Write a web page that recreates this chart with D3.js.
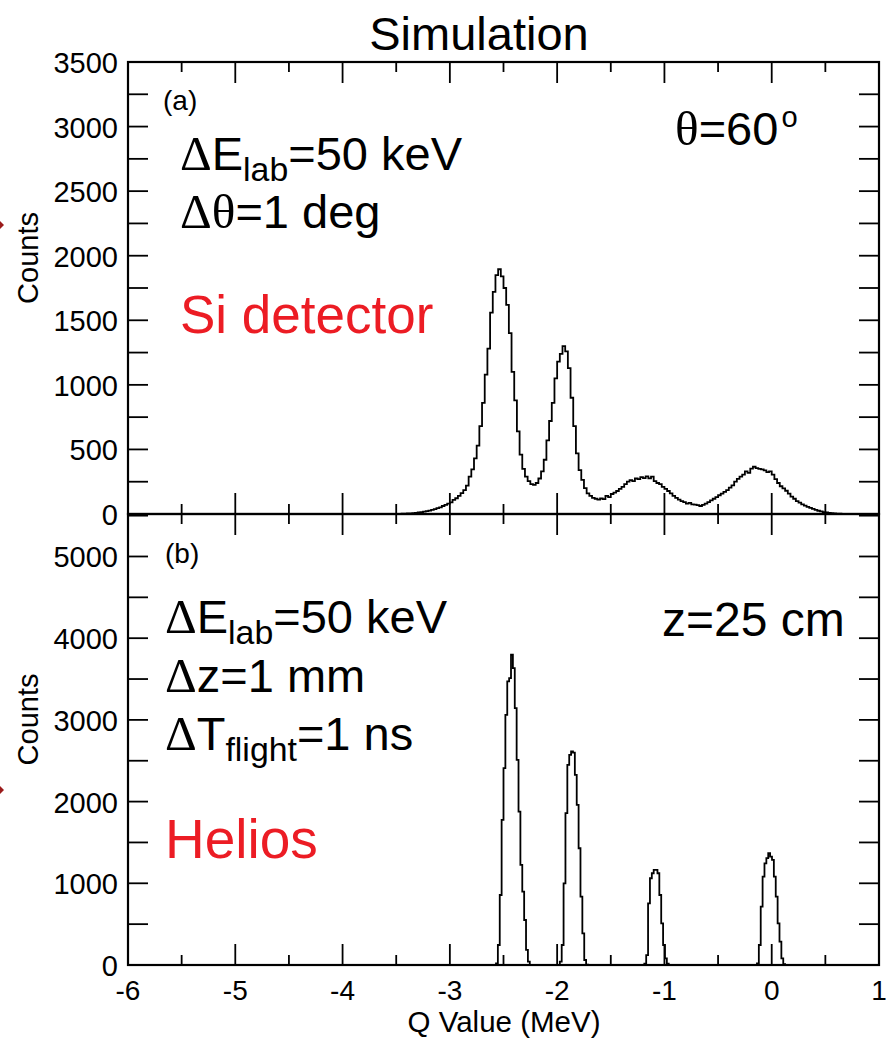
<!DOCTYPE html>
<html>
<head>
<meta charset="utf-8">
<script src="https://cdn.jsdelivr.net/npm/d3@7"></script>
<style>
  html, body { margin: 0; padding: 0; background: #fff; }
  svg { display: block; }
</style>
</head>
<body>
<svg id="chart" width="886" height="1039"></svg>
<script>
// ---- Q-value axis ----
const qDomain = [-6, 1];
const qMajorTicks = [-6, -5, -4, -3, -2, -1, 0, 1];
const qTickLabels = ["-6", "-5", "-4", "-3", "-2", "-1", "0", "1"];

// ---- (a) Si detector spectrum: 25 keV bins starting at -3.45 MeV ----
const siBinWidth = 0.025;
const siFirstEdge = -3.45;
const siCounts = [
  2, 3, 4, 5, 7, 9, 12, 15, 19, 22,
  26, 32, 38, 45, 52, 62, 70, 80, 90, 110,
  122, 140, 162, 185, 220, 289, 345, 430, 530, 680,
  860, 1080, 1280, 1560, 1720, 1850, 1895, 1840, 1750, 1620,
  1400, 1100, 880, 640, 460, 350, 290, 255, 232, 225,
  240, 275, 330, 420, 570, 720, 860, 1050, 1180, 1240,
  1300, 1260, 1130, 900, 680, 470, 340, 265, 200, 160,
  140, 125, 118, 112, 120, 115, 140, 130, 155, 165,
  178, 195, 210, 232, 250, 262, 255, 275, 270, 285,
  278, 292, 276, 290, 255, 240, 232, 210, 195, 178,
  160, 140, 125, 112, 100, 92, 80, 86, 74, 72,
  68, 62, 70, 80, 92, 105, 118, 130, 145, 158,
  172, 185, 205, 222, 250, 272, 290, 305, 330, 318,
  352, 366, 355, 350, 345, 338, 325, 330, 305, 270,
  240, 215, 198, 180, 158, 135, 118, 100, 88, 75,
  65, 55, 48, 40, 32, 25, 20, 15, 12, 8,
  6, 4, 3, 2, 1, 1
];
const siYTicks = [0, 500, 1000, 1500, 2000, 2500, 3000, 3500];

// ---- (b) Helios spectrum: 17.5 keV bins, four peaks ----
const heliosBinWidth = 0.0175;
const heliosPeakEdges = [-2.57, -1.975, -1.1875, -0.1375];
const heliosPeak1 = [20, 245, 857, 1776, 2409, 3062, 3471, 3512, 3797, 3634, 3144, 2511, 1878, 1225, 898, 551, 184, 41];
const heliosPeak2 = [41, 245, 1000, 1858, 2450, 2572, 2613, 2600, 2327, 1960, 1429, 837, 388, 61, 5];
const heliosPeak3 = [15, 122, 755, 1062, 1123, 1164, 1164, 1123, 857, 510, 245, 82, 15];
const heliosPeak4 = [20, 245, 714, 1082, 1245, 1307, 1368, 1327, 1286, 1082, 837, 510, 286, 82, 10];
const heliosYTicks = [0, 1000, 2000, 3000, 4000, 5000];

// ---- layout ----
const svg = d3.select("#chart");
const left = 128, right = 879;
const panelA = { top: 62, bottom: 514, max: 3500, minorStep: 250 };
const panelB = { top: 514, bottom: 965, max: 5520, minorStep: 500 };
const FONT = "'Liberation Sans', Arial, Helvetica, sans-serif";
const GREEK = "'Liberation Serif', 'Times New Roman', serif";
const RED = "#ec1c24";
const TICK_W = 1.8;

const x = d3.scaleLinear().domain(qDomain).range([left, right]);
const qTicks = d3.range(-6, 1.001, 0.5);
const isMajor = d => Math.abs(d - Math.round(d)) < 1e-6;

// Build a full-range histogram series [edge, count] from bins
function buildSeries(segments, width) {
  const nBins = Math.round((qDomain[1] - qDomain[0]) / width);
  const counts = new Array(nBins).fill(0);
  segments.forEach(([edge, vals]) => {
    const k0 = Math.round((edge - qDomain[0]) / width);
    vals.forEach((v, i) => { counts[k0 + i] = v; });
  });
  const pts = counts.map((c, i) => [qDomain[0] + i * width, c]);
  pts.push([qDomain[1], counts[nBins - 1]]);
  return pts;
}

function drawPanel(p, yTicks, series, opts) {
  const y = d3.scaleLinear().domain([0, p.max]).range([p.bottom, p.top]);
  const g = svg.append("g");

  // histogram
  const line = d3.line().x(d => x(d[0])).y(d => y(d[1])).curve(d3.curveStepAfter);
  g.append("path").datum(series)
    .attr("d", line).attr("fill", "none")
    .attr("stroke", "#000").attr("stroke-width", 1.8)
    .attr("stroke-linejoin", "miter");

  // inward ticks along the bottom and top edges
  g.append("g").selectAll("line").data(qTicks).join("line")
    .attr("x1", d => x(d)).attr("x2", d => x(d))
    .attr("y1", p.bottom).attr("y2", d => p.bottom - (isMajor(d) ? 21 : 10))
    .attr("stroke", "#000").attr("stroke-width", TICK_W);
  g.append("g").selectAll("line").data(qTicks).join("line")
    .attr("x1", d => x(d)).attr("x2", d => x(d))
    .attr("y1", p.top).attr("y2", d => p.top + (isMajor(d) ? 21 : 10))
    .attr("stroke", "#000").attr("stroke-width", TICK_W);

  // inward ticks along the left and right edges
  const yMinor = d3.range(0, p.max + 1, p.minorStep);
  g.append("g").selectAll("line").data(yMinor).join("line")
    .attr("x1", left).attr("x2", left + 20)
    .attr("y1", d => y(d)).attr("y2", d => y(d))
    .attr("stroke", "#000").attr("stroke-width", TICK_W);
  g.append("g").selectAll("line").data(yMinor).join("line")
    .attr("x1", right).attr("x2", right - 20)
    .attr("y1", d => y(d)).attr("y2", d => y(d))
    .attr("stroke", "#000").attr("stroke-width", TICK_W);

  // y tick labels
  const gy = g.append("g").attr("transform", `translate(${left},0)`)
    .call(d3.axisLeft(y).tickValues(yTicks).tickSize(0).tickPadding(10)
      .tickFormat(d3.format("d")));
  gy.select(".domain").remove();
  gy.selectAll("text").attr("font-family", FONT).attr("font-size", 29)
    .attr("fill", "#000").attr("dy", "0.36em");

  // frame
  g.append("rect").attr("x", left).attr("y", p.top)
    .attr("width", right - left).attr("height", p.bottom - p.top)
    .attr("fill", "none").attr("stroke", "#000").attr("stroke-width", 2.2);

  // y title
  const cy = (p.top + p.bottom) / 2 + opts.titleShift;
  g.append("text")
    .attr("transform", `translate(38,${cy}) rotate(-90)`)
    .attr("text-anchor", "middle").attr("font-family", FONT).attr("font-size", 29)
    .text("Counts");

  // small marker at the page edge
  const my = opts.markerY;
  g.append("path")
    .attr("d", `M0,${my - 4} L4,${my} L0,${my + 4} Z`)
    .attr("fill", "#9b1b1b");
  return y;
}

// rich text with sub/superscripts and Greek letters
function rich(xp, yp, parts, size, color) {
  const t = svg.append("text").attr("x", xp).attr("y", yp)
    .attr("font-family", FONT).attr("font-size", size).attr("fill", color || "#000");
  parts.forEach(pt => {
    const s = t.append("tspan").text(pt.t);
    if (pt.greek) s.attr("font-family", GREEK).attr("font-size", size * 1.05);
    if (pt.sub) s.attr("font-size", size * 0.72).attr("dy", size * 0.24);
    if (pt.sup) s.attr("font-size", size * 0.62).attr("dy", -size * 0.38).attr("dx", 3);
    if (pt.back) s.attr("dy", -size * 0.24);
  });
  return t;
}

const seriesA = buildSeries([[siFirstEdge, siCounts]], siBinWidth);
const seriesB = buildSeries([
  [heliosPeakEdges[0], heliosPeak1],
  [heliosPeakEdges[1], heliosPeak2],
  [heliosPeakEdges[2], heliosPeak3],
  [heliosPeakEdges[3], heliosPeak4]
], heliosBinWidth);

drawPanel(panelA, siYTicks, seriesA, { titleShift: -30, markerY: 225 });
drawPanel(panelB, heliosYTicks, seriesB, { titleShift: -20, markerY: 790 });

// x tick labels and title
qMajorTicks.forEach((q, i) => {
  svg.append("text").attr("x", x(q)).attr("y", 1000)
    .attr("text-anchor", "middle").attr("font-family", FONT).attr("font-size", 28)
    .text(qTickLabels[i]);
});
svg.append("text").attr("x", 504).attr("y", 1032).attr("text-anchor", "middle")
  .attr("font-family", FONT).attr("font-size", 29.5).text("Q Value (MeV)");

// title
svg.append("text").attr("x", 479).attr("y", 50).attr("text-anchor", "middle")
  .attr("font-family", FONT).attr("font-size", 47).text("Simulation");

// panel (a) annotations
rich(163, 110, [{ t: "(a)" }], 28);
rich(180, 170, [{ t: "Δ", greek: true }, { t: "E" }, { t: "lab", sub: true }, { t: "=50 keV", back: true }], 47);
rich(180, 228, [{ t: "Δθ", greek: true }, { t: "=1 deg" }], 47);
rich(675, 145, [{ t: "θ", greek: true }, { t: "=60" }, { t: "o", sup: true }], 47);
rich(180, 333, [{ t: "Si detector" }], 53, RED);

// panel (b) annotations
rich(165, 563, [{ t: "(b)" }], 28);
rich(165, 633, [{ t: "Δ", greek: true }, { t: "E" }, { t: "lab", sub: true }, { t: "=50 keV", back: true }], 47);
rich(165, 692, [{ t: "Δ", greek: true }, { t: "z=1 mm" }], 47);
rich(165, 750, [{ t: "Δ", greek: true }, { t: "T" }, { t: "flight", sub: true }, { t: "=1 ns", back: true }], 47);
rich(662, 636, [{ t: "z=25 cm" }], 48);
rich(165, 858, [{ t: "Helios" }], 55, RED);
</script>
</body>
</html>
